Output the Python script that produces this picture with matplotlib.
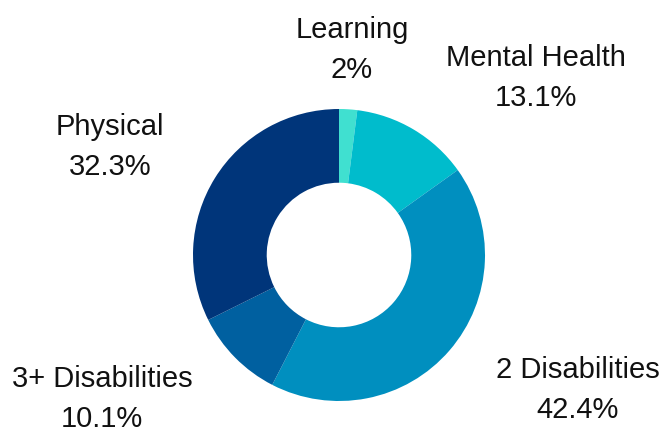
import matplotlib.pyplot as plt

# data
categories = ['Learning', 'Mental Health', '2 Disabilities', '3+ Disabilities', 'Physical']
shares = [2.0, 13.1, 42.4, 10.1, 32.3]
colors = ['#40E0D0', '#00BCCC', '#008FBF', '#0060A0', '#00357A']

# label centres in pixels (x from left, y from top)
label_pos = [(352, 50), (536, 78), (578, 390), (102, 399), (110, 147)]

W, H = 663, 429
fig = plt.figure(figsize=(W / 100, H / 100), dpi=100)
ax = fig.add_axes([0, 0, 1, 1])

ax.pie(shares, colors=colors, startangle=90, counterclock=False,
       center=(339, H - 255), radius=146,
       wedgeprops=dict(width=146 * 0.505, linewidth=0))

# pie resets the limits, so set them afterwards
ax.set_xlim(0, W)
ax.set_ylim(0, H)
ax.set_aspect('equal')
ax.axis('off')

for name, val, (x, y) in zip(categories, shares, label_pos):
    ax.text(x, H - y, f"{name}\n{val:g}%", ha='center', va='center',
            fontsize=21, family='Liberation Sans', linespacing=1.55,
            color='#111111')

fig.savefig('out.png', dpi=100)
